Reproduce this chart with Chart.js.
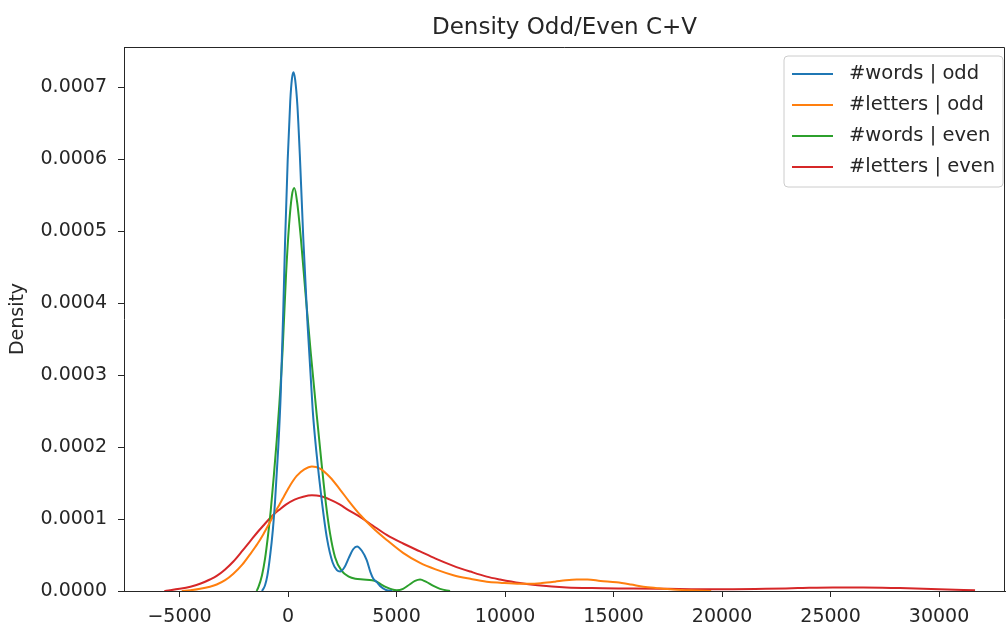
<!DOCTYPE html>
<html>
<head>
<meta charset="utf-8">
<script src="https://cdn.jsdelivr.net/npm/chart.js@4/dist/chart.umd.min.js"></script>
<style>
  html, body { margin: 0; padding: 0; background: #fff; }
  #wrap { width: 1007px; height: 625px; }
</style>
</head>
<body>
<div id="wrap"><canvas id="density-chart" width="1007" height="625"></canvas></div>
<script>
// densities in units of 1e-4
var seriesLabels = ["#words | odd", "#letters | odd", "#words | even", "#letters | even"];
var seriesColors = ["#1f77b4", "#ff7f0e", "#2ca02c", "#d62728"];

var wordsOddX = [-1200, -1060, -950, -830, -700, -600, -450, -336, -220, -138, -15, 100, 180, 250, 330, 430, 553, 707, 900, 1137, 1300, 1553, 1800, 2050, 2250, 2400, 2600, 2800, 3000, 3180, 3400, 3625, 3800, 3932, 4100, 4239, 4546, 4800];
var wordsOddY = [0, 0.08, 0.22, 0.48, 0.85, 1.24, 2.0, 2.75, 3.9, 4.85, 6.0, 6.8, 7.12, 7.21, 7.1, 6.75, 5.99, 4.87, 3.7, 2.51, 1.95, 1.26, 0.72, 0.4, 0.29, 0.27, 0.33, 0.46, 0.58, 0.62, 0.56, 0.43, 0.26, 0.17, 0.12, 0.07, 0.01, 0];

var lettersOddX = [-4900, -4500, -4055, -3600, -3287, -2900, -2520, -2100, -1751, -1400, -1137, -900, -675, -400, -215, 100, 400, 750, 1100, 1475, 1935, 2396, 2800, 3318, 3900, 4546, 5300, 6083, 6800, 7618, 8400, 9156, 9770, 10690, 11150, 11700, 12300, 12800, 13300, 13800, 14400, 15140, 15800, 16370, 17000, 17750, 18500, 19500];
var lettersOddY = [0, 0.01, 0.03, 0.06, 0.09, 0.15, 0.24, 0.37, 0.51, 0.66, 0.79, 0.92, 1.05, 1.2, 1.3, 1.47, 1.6, 1.69, 1.73, 1.7, 1.58, 1.41, 1.25, 1.06, 0.88, 0.71, 0.53, 0.39, 0.3, 0.22, 0.17, 0.13, 0.115, 0.1, 0.1, 0.11, 0.13, 0.15, 0.16, 0.16, 0.14, 0.12, 0.09, 0.06, 0.04, 0.02, 0.01, 0];

var wordsEvenX = [-1450, -1370, -1200, -1060, -920, -797, -650, -520, -400, -250, -92, 50, 180, 290, 420, 600, 800, 1050, 1320, 1553, 1750, 1935, 2166, 2473, 2800, 3100, 3470, 3870, 4085, 4300, 4546, 4800, 5008, 5300, 5600, 5850, 6083, 6350, 6700, 7004, 7465];
var wordsEvenY = [0, 0.05, 0.22, 0.45, 0.78, 1.12, 1.62, 2.1, 2.6, 3.35, 4.4, 5.1, 5.5, 5.6, 5.4, 4.87, 4.15, 3.3, 2.45, 1.75, 1.2, 0.8, 0.47, 0.28, 0.2, 0.17, 0.16, 0.15, 0.13, 0.09, 0.05, 0.02, 0.01, 0.03, 0.09, 0.14, 0.16, 0.13, 0.07, 0.03, 0];

var lettersEvenX = [-5700, -5440, -5000, -4500, -4055, -3600, -3287, -2900, -2520, -2100, -1751, -1400, -1137, -900, -675, -400, -100, 300, 700, 1100, 1475, 1935, 2396, 2800, 3318, 3900, 4546, 5300, 6083, 6800, 7618, 8400, 9156, 9770, 10690, 11500, 12840, 14000, 15900, 17500, 18980, 20500, 22000, 23500, 25110, 26500, 28200, 30000, 31660];
var lettersEvenY = [0, 0.01, 0.03, 0.06, 0.1, 0.16, 0.21, 0.3, 0.41, 0.56, 0.69, 0.82, 0.91, 0.99, 1.06, 1.13, 1.2, 1.27, 1.31, 1.33, 1.32, 1.27, 1.2, 1.12, 1.03, 0.91, 0.78, 0.66, 0.55, 0.45, 0.35, 0.27, 0.2, 0.16, 0.11, 0.08, 0.05, 0.04, 0.035, 0.03, 0.025, 0.025, 0.03, 0.04, 0.05, 0.05, 0.04, 0.025, 0.01];

var xTicks = [-5000, 0, 5000, 10000, 15000, 20000, 25000, 30000];
var yTicks = [0, 0.0001, 0.0002, 0.0003, 0.0004, 0.0005, 0.0006, 0.0007];

function toPoints(xs, ys) {
    var pts = [];
    for (var i = 0; i < xs.length; i++) {
        pts.push({ x: xs[i], y: ys[i] * 1e-4 });
    }
    return pts;
}

var allX = [wordsOddX, lettersOddX, wordsEvenX, lettersEvenX];
var allY = [wordsOddY, lettersOddY, wordsEvenY, lettersEvenY];

var datasets = [];
for (var i = 0; i < seriesLabels.length; i++) {
    datasets.push({
        label: seriesLabels[i],
        data: toPoints(allX[i], allY[i]),
        borderColor: seriesColors[i],
        backgroundColor: seriesColors[i],
        borderWidth: 2,
        pointRadius: 0,
        fill: false,
        cubicInterpolationMode: "monotone"
    });
}

var textColor = "#262626";
var fontFamily = "'DejaVu Sans', sans-serif";

// top and right spines, title, legend box
var framePlugin = {
    id: "frame",
    afterDraw: function (chart) {
        var ctx = chart.ctx;
        var a = chart.chartArea;
        ctx.save();
        ctx.strokeStyle = "#262626";
        ctx.lineWidth = 1;
        ctx.beginPath();
        ctx.moveTo(a.left, a.top + 0.5);
        ctx.lineTo(a.right - 0.5, a.top + 0.5);
        ctx.lineTo(a.right - 0.5, a.bottom);
        ctx.stroke();

        ctx.fillStyle = textColor;
        ctx.font = "23px " + fontFamily;
        ctx.textAlign = "center";
        ctx.textBaseline = "middle";
        ctx.fillText("Density Odd/Even C+V", (a.left + a.right) / 2, 28);

        // legend
        var bx = 784, by = 56, bw = 219, bh = 131, r = 4;
        ctx.fillStyle = "rgba(255,255,255,0.8)";
        ctx.strokeStyle = "#cccccc";
        ctx.beginPath();
        ctx.moveTo(bx + r, by);
        ctx.lineTo(bx + bw - r, by);
        ctx.quadraticCurveTo(bx + bw, by, bx + bw, by + r);
        ctx.lineTo(bx + bw, by + bh - r);
        ctx.quadraticCurveTo(bx + bw, by + bh, bx + bw - r, by + bh);
        ctx.lineTo(bx + r, by + bh);
        ctx.quadraticCurveTo(bx, by + bh, bx, by + bh - r);
        ctx.lineTo(bx, by + r);
        ctx.quadraticCurveTo(bx, by, bx + r, by);
        ctx.closePath();
        ctx.fill();
        ctx.stroke();

        ctx.font = "19.5px " + fontFamily;
        ctx.textAlign = "left";
        var ds = chart.data.datasets;
        for (var k = 0; k < ds.length; k++) {
            var yy = 74 + k * 31;
            ctx.strokeStyle = ds[k].borderColor;
            ctx.lineWidth = 2;
            ctx.beginPath();
            ctx.moveTo(792, yy);
            ctx.lineTo(833, yy);
            ctx.stroke();
            ctx.fillStyle = textColor;
            ctx.fillText(ds[k].label, 849, yy);
        }
        ctx.restore();
    }
};

new Chart("density-chart", {
    type: "line",
    data: { datasets: datasets },
    options: {
        responsive: false,
        animation: false,
        layout: { padding: { top: 47, right: 2, left: 0, bottom: 0 } },
        plugins: {
            legend: { display: false },
            title: { display: false },
            tooltip: { enabled: false }
        },
        scales: {
            x: {
                type: "linear",
                min: -7560,
                max: 33040,
                afterBuildTicks: function (scale) {
                    scale.ticks = xTicks.map(function (v) { return { value: v }; });
                },
                afterFit: function (scale) { scale.height = 34; },
                grid: { drawOnChartArea: false, drawTicks: true, tickLength: 6, color: "#262626" },
                border: { display: true, color: "#262626", width: 1 },
                ticks: {
                    color: textColor,
                    font: { family: fontFamily, size: 19 },
                    padding: 9,
                    maxRotation: 0,
                    callback: function (v) { return String(v).replace("-", "\u2212"); }
                }
            },
            y: {
                type: "linear",
                min: 0,
                max: 0.000756,
                afterBuildTicks: function (scale) {
                    scale.ticks = yTicks.map(function (v) { return { value: v }; });
                },
                afterFit: function (scale) { scale.width = 124; },
                grid: { drawOnChartArea: false, drawTicks: true, tickLength: 6, color: "#262626" },
                border: { display: true, color: "#262626", width: 1 },
                title: {
                    display: true,
                    text: "Density",
                    color: textColor,
                    font: { family: fontFamily, size: 19 },
                    padding: { top: 7, bottom: 0 }
                },
                ticks: {
                    color: textColor,
                    font: { family: fontFamily, size: 19 },
                    padding: 11,
                    callback: function (v) { return v.toFixed(4); }
                }
            }
        }
    },
    plugins: [framePlugin]
});
</script>
</body>
</html>
